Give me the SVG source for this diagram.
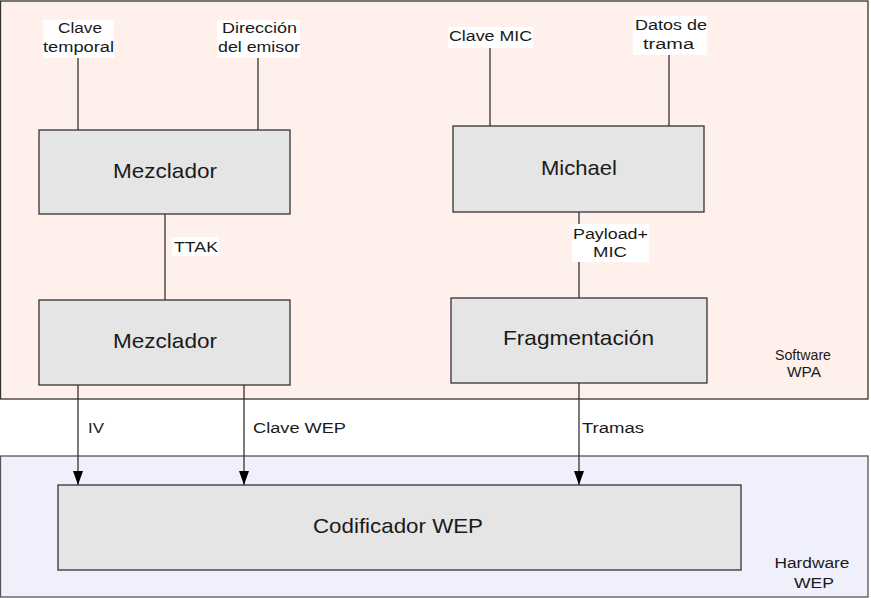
<svg xmlns="http://www.w3.org/2000/svg" width="871" height="598" viewBox="0 0 871 598">
<style>
text{font-family:"Liberation Sans",Arial,sans-serif;fill:#1a1a1a;text-anchor:middle}
.s{font-size:15.5px}
.b{font-size:21px}
.box{fill:#e5e5e5;stroke:#333;stroke-width:1.3}
.ln{stroke:#333;stroke-width:1.3;fill:none}
.bg{fill:#fff}
</style>
<defs>
<marker id="ah" viewBox="0 0 14 10" refX="14" refY="5" markerWidth="14" markerHeight="10" markerUnits="userSpaceOnUse" orient="auto">
<path d="M0,0 L14,5 L0,10 Z" fill="#000"/>
</marker>
</defs>
<g id="software-wpa">
<rect x="0.5" y="1" width="867.5" height="398" fill="#fff0ec" stroke="#333" stroke-width="1.3"/>
<text class="s" x="803" y="360" textLength="56" lengthAdjust="spacingAndGlyphs">Software</text>
<text class="s" x="804" y="377" textLength="34" lengthAdjust="spacingAndGlyphs">WPA</text>
</g>
<g id="hardware-wep">
<rect x="0.5" y="456" width="867.5" height="141" fill="#f0f0fc" stroke="#555" stroke-width="1.3"/>
<text class="s" x="812" y="568" textLength="75" lengthAdjust="spacingAndGlyphs">Hardware</text>
<text class="s" x="814" y="588" textLength="40" lengthAdjust="spacingAndGlyphs">WEP</text>
</g>
<g id="connectors">
<line class="ln" x1="78" y1="58" x2="78" y2="130"/>
<line class="ln" x1="258" y1="58" x2="258" y2="130"/>
<line class="ln" x1="165" y1="214" x2="165" y2="300"/>
<line class="ln" x1="490" y1="48" x2="490" y2="126"/>
<line class="ln" x1="669" y1="55" x2="669" y2="126"/>
<line class="ln" x1="579" y1="212" x2="579" y2="298"/>
<line class="ln" x1="78" y1="385" x2="78" y2="485" marker-end="url(#ah)"/>
<line class="ln" x1="244" y1="385" x2="244" y2="485" marker-end="url(#ah)"/>
<line class="ln" x1="579" y1="383" x2="579" y2="485" marker-end="url(#ah)"/>
<g id="lbl-clave-temporal">
<rect class="bg" x="43" y="20" width="71" height="38"/>
<text class="s" x="80" y="33" textLength="44" lengthAdjust="spacingAndGlyphs">Clave</text>
<text class="s" x="78.5" y="52" textLength="71" lengthAdjust="spacingAndGlyphs">temporal</text>
</g>
<g id="lbl-direccion">
<rect class="bg" x="217" y="20" width="83" height="38"/>
<text class="s" x="259.5" y="33" textLength="75" lengthAdjust="spacingAndGlyphs">Dirección</text>
<text class="s" x="259" y="52" textLength="82" lengthAdjust="spacingAndGlyphs">del emisor</text>
</g>
<g id="lbl-clave-mic">
<rect class="bg" x="448" y="27" width="85" height="21"/>
<text class="s" x="490.5" y="41" textLength="83" lengthAdjust="spacingAndGlyphs">Clave MIC</text>
</g>
<g id="lbl-datos">
<rect class="bg" x="633" y="16" width="74" height="39"/>
<text class="s" x="671" y="30" textLength="72" lengthAdjust="spacingAndGlyphs">Datos de</text>
<text class="s" x="668.5" y="49" textLength="51" lengthAdjust="spacingAndGlyphs">trama</text>
</g>
<g id="lbl-ttak">
<rect class="bg" x="172" y="237" width="47" height="19"/>
<text class="s" x="196" y="252" textLength="44" lengthAdjust="spacingAndGlyphs">TTAK</text>
</g>
<g id="lbl-payload">
<rect class="bg" x="572" y="224" width="77" height="38"/>
<text class="s" x="610.5" y="239" textLength="75" lengthAdjust="spacingAndGlyphs">Payload+</text>
<text class="s" x="610" y="257" textLength="34" lengthAdjust="spacingAndGlyphs">MIC</text>
</g>
<text class="s" x="96" y="433" textLength="16" lengthAdjust="spacingAndGlyphs">IV</text>
<text class="s" x="299.5" y="433" textLength="93" lengthAdjust="spacingAndGlyphs">Clave WEP</text>
<text class="s" x="613" y="433" textLength="62" lengthAdjust="spacingAndGlyphs">Tramas</text>
</g>
<g id="mezclador-1">
<rect class="box" x="39" y="130" width="251" height="84"/>
<text class="b" x="165" y="178" textLength="104" lengthAdjust="spacingAndGlyphs">Mezclador</text>
</g>
<g id="mezclador-2">
<rect class="box" x="39" y="300" width="251" height="85"/>
<text class="b" x="165" y="348" textLength="104" lengthAdjust="spacingAndGlyphs">Mezclador</text>
</g>
<g id="michael">
<rect class="box" x="453" y="126" width="251" height="86"/>
<text class="b" x="579" y="175" textLength="76" lengthAdjust="spacingAndGlyphs">Michael</text>
</g>
<g id="fragmentacion">
<rect class="box" x="451" y="298" width="256" height="85"/>
<text class="b" x="578.5" y="345" textLength="151" lengthAdjust="spacingAndGlyphs">Fragmentación</text>
</g>
<g id="codificador-wep">
<rect class="box" x="58" y="485" width="683" height="85"/>
<text class="b" x="398" y="533" textLength="170" lengthAdjust="spacingAndGlyphs">Codificador WEP</text>
</g>
</svg>
